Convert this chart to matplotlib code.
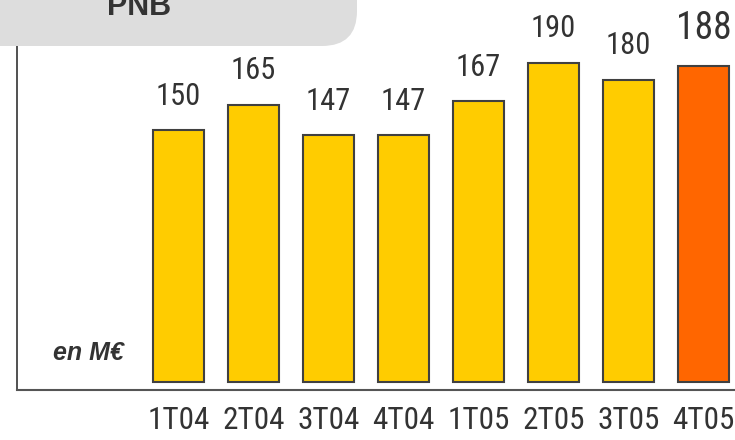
import matplotlib
matplotlib.use("Agg")
import matplotlib.pyplot as plt
from matplotlib.patches import FancyBboxPatch
from matplotlib.transforms import IdentityTransform

quarters = ["1T04", "2T04", "3T04", "4T04", "1T05", "2T05", "3T05", "4T05"]
pnb = [150, 165, 147, 147, 167, 190, 180, 188]
bar_colors = ["#FFCC00"] * 7 + ["#FF6600"]

narrow = ["Roboto Condensed", "DejaVu Sans"]
arial = ["Liberation Sans", "DejaVu Sans"]

fig = plt.figure(figsize=(7.35, 4.4), dpi=100)
# axes box in pixels: left 17, right 735, bottom 390, top 46
ax = fig.add_axes([17 / 735, (440 - 390) / 440, (735 - 17) / 735, (390 - 46) / 440])

x = list(range(len(quarters)))
ax.bar(x, pnb, width=0.68, color=bar_colors, edgecolor="#404040", linewidth=1.5, zorder=3)
ax.set_xlim(-2.153, 7.42)
ax.set_ylim(-4.76, 200)

for i, v in enumerate(pnb):
    last = i == len(pnb) - 1
    ax.annotate(str(v), (i, v), xytext=(0, 14), textcoords="offset points",
                ha="center", va="bottom", fontsize=27 if last else 22,
                family=narrow, color="#333333")

ax.set_xticks([])
ax.set_yticks([])
for s in ("top", "right"):
    ax.spines[s].set_visible(False)
ax.spines["left"].set_color("#333333")
ax.spines["bottom"].set_color("#555555")
ax.spines["left"].set_linewidth(1.2)
ax.spines["bottom"].set_linewidth(1.5)

# quarter labels under the axis
for i, q in enumerate(quarters):
    ax.annotate(q, (i, 0), xycoords=("data", "axes fraction"), xytext=(0, -22),
                textcoords="offset points", ha="center", va="center",
                fontsize=22.5, family=narrow, color="#333333")

ax.text(88 / 735, (440 - 353) / 440, "en M€", transform=fig.transFigure,
        ha="center", va="center", fontsize=18, fontweight="bold", fontstyle="italic",
        family=arial, color="#333333")

# title banner, drawn in pixel units
banner = FancyBboxPatch((-40, 440 - 46), 397, 120,
                        boxstyle="round,pad=0,rounding_size=35", transform=IdentityTransform(),
                        facecolor="#DDDDDD", edgecolor="none", zorder=5)
fig.patches.append(banner)
fig.text(139 / 735, (440 - 7) / 440, "PNB", ha="center", va="center", fontsize=22,
         fontweight="bold", family=arial, color="#333333", zorder=6)

fig.savefig("out.png", dpi=100)
